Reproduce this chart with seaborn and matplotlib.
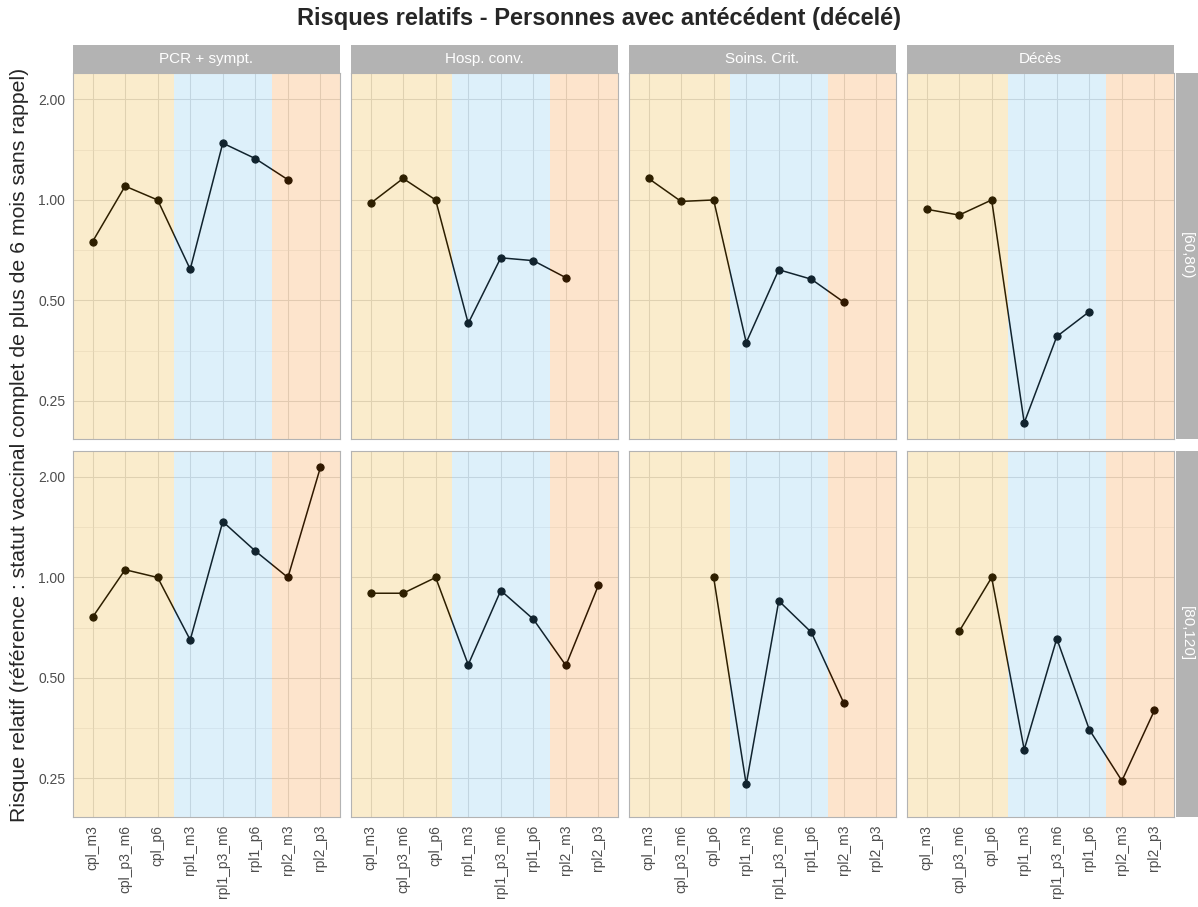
import numpy as np
import pandas as pd
import matplotlib.pyplot as plt
import seaborn as sns
from matplotlib.patches import Rectangle
from matplotlib.ticker import NullFormatter

# categories and facets
categories = ["cpl_m3", "cpl_p3_m6", "cpl_p6", "rpl1_m3", "rpl1_p3_m6",
              "rpl1_p6", "rpl2_m3", "rpl2_p3"]
outcomes = ["PCR + sympt.", "Hosp. conv.", "Soins. Crit.", "Décès"]
ages = ["[60,80)", "[80,120]"]
nan = np.nan

# relative risks (one list per panel)
rr_60_pcr = [0.75, 1.10, 1.00, 0.62, 1.48, 1.33, 1.15, nan]
rr_60_hosp = [0.977, 1.16, 1.00, 0.427, 0.671, 0.658, 0.585, nan]
rr_60_crit = [1.16, 0.99, 1.00, 0.374, 0.618, 0.579, 0.494, nan]
rr_60_deces = [0.938, 0.901, 1.00, 0.215, 0.390, 0.463, nan, nan]
rr_80_pcr = [0.76, 1.055, 1.00, 0.65, 1.47, 1.20, 1.00, 2.14]
rr_80_hosp = [0.897, 0.897, 1.00, 0.548, 0.914, 0.750, 0.545, 0.948]
rr_80_crit = [nan, nan, 1.00, 0.24, 0.851, 0.685, 0.42, nan]
rr_80_deces = [nan, 0.689, 1.00, 0.305, 0.656, 0.35, 0.246, 0.40]

panels = {
    ("[60,80)", "PCR + sympt."): rr_60_pcr,
    ("[60,80)", "Hosp. conv."): rr_60_hosp,
    ("[60,80)", "Soins. Crit."): rr_60_crit,
    ("[60,80)", "Décès"): rr_60_deces,
    ("[80,120]", "PCR + sympt."): rr_80_pcr,
    ("[80,120]", "Hosp. conv."): rr_80_hosp,
    ("[80,120]", "Soins. Crit."): rr_80_crit,
    ("[80,120]", "Décès"): rr_80_deces,
}

# background bands by vaccination group
band_colors = {"cpl": "#E8A000", "rpl1": "#56B4E9", "rpl2": "#F57A00"}
groups = [c.split("_")[0] for c in categories]

rows = []
for (age, outc), vals in panels.items():
    for i, (cat, v) in enumerate(zip(categories, vals)):
        rows.append({"age": age, "outcome": outc, "statut": cat, "pos": i, "rr": v})
df = pd.DataFrame(rows).dropna()

sns.set_theme(style="white")
plt.rcParams['font.family'] = ['Liberation Sans', 'DejaVu Sans']

W, H = 1198, 907
pw, ph = 267, 366


def draw_panel(data, **kws):
    ax = plt.gca()
    ax.set_yscale("log", base=2)
    sns.lineplot(data=data, x="pos", y="rr", estimator=None, sort=True,
                 color="black", lw=1.1, marker="o", markersize=5.2,
                 markeredgecolor="black", ax=ax)


g = sns.FacetGrid(df, row="age", col="outcome", row_order=ages, col_order=outcomes,
                  sharex=True, sharey=True, despine=False, height=3.66, aspect=pw / ph)
g.map_dataframe(draw_panel)
fig = g.figure
fig.set_size_inches(W / 100, H / 100)
fig.subplots_adjust(left=73 / W, right=1174 / W, top=1 - 73 / H, bottom=1 - 817 / H,
                    wspace=11 / pw, hspace=11 / ph)

lo, hi = np.log2(df["rr"].min()), np.log2(df["rr"].max())
pad = 0.05 * (hi - lo)
ylim = (2 ** (lo - pad), 2 ** (hi + pad))
xlim = (-0.6, len(categories) - 1 + 0.6)
yticks = [0.25, 0.5, 1, 2]
yminor = [2 ** -1.5, 2 ** -0.5, 2 ** 0.5]

for r, age in enumerate(ages):
    for c, outc in enumerate(outcomes):
        ax = g.axes[r, c]
        ax.set_facecolor("white")
        ax.set_xlim(*xlim)
        ax.set_ylim(*ylim)
        ax.set_xticks(range(len(categories)))
        ax.set_xticklabels(categories, rotation=90)
        ax.set_yticks(yticks)
        ax.set_yticklabels(["0.25", "0.50", "1.00", "2.00"])
        ax.set_yticks(yminor, minor=True)
        ax.yaxis.set_minor_formatter(NullFormatter())
        ax.set_axisbelow(True)
        ax.grid(True, which="major", color="#DEDEDE", lw=0.75)
        ax.grid(True, which="minor", axis="y", color="#E6E6E6", lw=0.4)
        ax.tick_params(which="major", length=3.5, width=0.6, color="#B3B3B3",
                       labelcolor="#4D4D4D", labelsize=10, pad=2)
        ax.tick_params(which="minor", length=0)
        if r == 0:
            ax.tick_params(axis="x", length=0)
        if c > 0:
            ax.tick_params(axis="y", length=0)
        ax.set_xlabel("")
        ax.set_ylabel("")
        ax.set_title("")
        for sp in ax.spines.values():
            sp.set_color("#B3B3B3")
            sp.set_linewidth(0.8)
            sp.set_zorder(6)

        # translucent bands drawn over the data, like the original
        for grp in dict.fromkeys(groups):
            idx = [i for i, gname in enumerate(groups) if gname == grp]
            x0 = idx[0] - 0.5 if idx[0] > 0 else xlim[0]
            x1 = idx[-1] + 0.5 if idx[-1] < len(categories) - 1 else xlim[1]
            ax.axvspan(x0, x1, color=band_colors[grp], alpha=0.2, lw=0, zorder=5)

        if r == 0:
            ax.add_patch(Rectangle((0, 1), 1, 28 / ph, transform=ax.transAxes,
                                   clip_on=False, fc="#B3B3B3", ec="none"))
            ax.text(0.5, 1 + 14 / ph, outc, transform=ax.transAxes, ha="center",
                    va="center", color="white", fontsize=11)
        if c == len(outcomes) - 1:
            ax.add_patch(Rectangle((1 + 2 / pw, 0), 22 / pw, 1, transform=ax.transAxes,
                                   clip_on=False, fc="#B3B3B3", ec="none"))
            ax.text(1 + 13 / pw, 0.5, age, transform=ax.transAxes, ha="center",
                    va="center", color="white", fontsize=11, rotation=-90)

fig.text(0.5, 1 - 18 / H, "Risques relatifs - Personnes avec antécédent (décelé)",
         ha="center", va="center", fontsize=17, fontweight="bold")
fig.text(20 / W, 1 - 445 / H,
         "Risque relatif (référence : statut vaccinal complet de plus de 6 mois sans rappel)",
         ha="center", va="center", rotation=90, fontsize=15.3)

fig.savefig("out.png", dpi=100)
